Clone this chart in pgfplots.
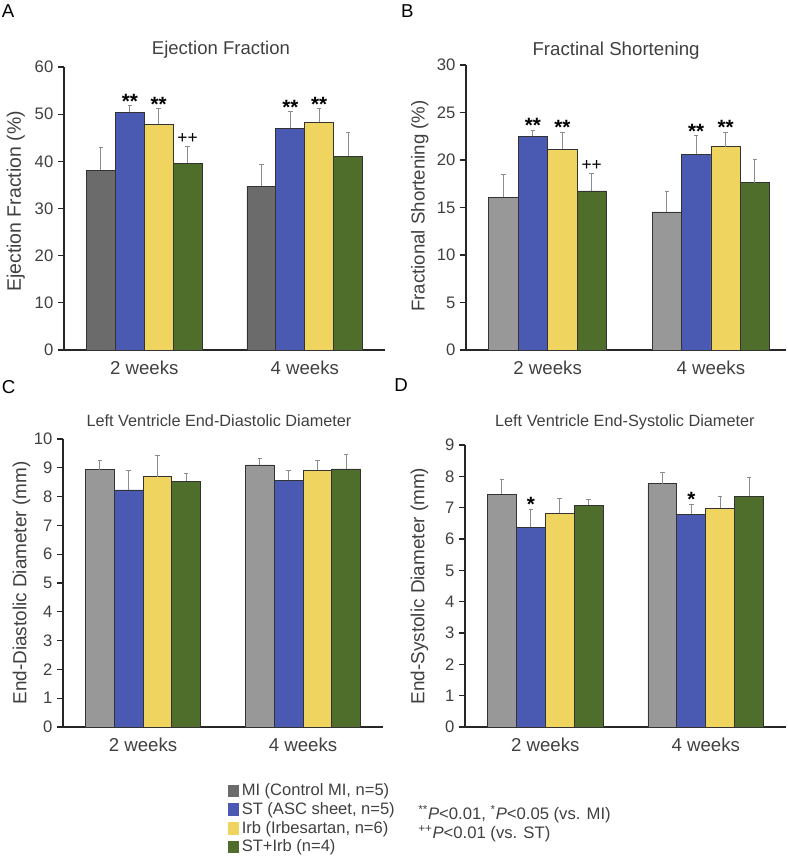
\documentclass[border=0pt]{standalone}
\usepackage{fontspec}
\setmainfont{Liberation Sans}
\usepackage{pgfplots}
\pgfplotsset{compat=1.18}

\definecolor{midark}{HTML}{6B6B6B}
\definecolor{milight}{HTML}{989898}
\definecolor{stblue}{HTML}{4A5AB3}
\definecolor{irbyel}{HTML}{EFD45F}
\definecolor{comb}{HTML}{4F6E2B}
\definecolor{txt}{HTML}{404040}
\definecolor{errc}{HTML}{8C8C8C}

\pgfplotsset{
  panel/.style={
    scale only axis,
    axis lines=left,
    axis line style={-, line width=0.9pt, black!85},
    ymin=0, xmin=-0.5, xmax=1.5,
    xtick={0,1}, xticklabels={2 weeks,4 weeks},
    x tick style={draw=none},
    y tick style={black!85, line width=0.8pt},
    tick align=outside, major tick length=4.5pt,
    /pgf/number format/assume math mode=true,
    yticklabel style={font=\fontsize{12.5}{14}\selectfont, text=txt},
    xticklabel style={font=\fontsize{14}{16}\selectfont, text=txt},
    ylabel style={font=\fontsize{14.2}{16}\selectfont, text=txt, anchor=center},
    title style={text=txt, anchor=base},
    ybar, bar width=0.18,
    every axis plot/.append style={draw=black!80, line width=0.6pt},
    error bars/y dir=plus, error bars/y explicit,
    error bars/error bar style={errc, line width=0.75pt},
    error bars/error mark options={rotate=90, errc, mark size=1.7pt, line width=0.75pt},
    clip=false,
  },
}
\tikzset{
  sig/.style={font=\bfseries\fontsize{15.5}{16}\selectfont, anchor=center, yshift=3.4pt, inner sep=0pt},
  pls/.style={font=\fontsize{13}{14}\selectfont, anchor=center, yshift=6pt, inner sep=0pt},
}

\begin{document}
\begin{tikzpicture}
\path[use as bounding box] (0pt,0pt) rectangle (591pt,-642.75pt);

% panel letters
\node[anchor=north west, inner sep=0pt, font=\fontsize{14}{15}\selectfont] at (1.3pt,-3.6pt) {A};
\node[anchor=north west, inner sep=0pt, font=\fontsize{14}{15}\selectfont] at (300.7pt,-3.6pt) {B};
\node[anchor=north west, inner sep=0pt, font=\fontsize{14}{15}\selectfont] at (1.3pt,-285pt) {C};
\node[anchor=north west, inner sep=0pt, font=\fontsize{14}{15}\selectfont] at (295.5pt,-283.5pt) {D};

% A: Ejection Fraction
\begin{axis}[panel,
  at={(48pt,-262.5pt)}, anchor=south west,
  width=240.75pt, height=212.25pt,
  ymax=60, ytick={0,10,...,60},
  title={Ejection Fraction},
  title style={at={(axis description cs:0.489,1)}, yshift=3.5pt, font=\fontsize{13.9}{16}\selectfont},
  ylabel={Ejection Fraction (\%)},
  ylabel style={at={(axis description cs:-0.15,0.525)}, font=\fontsize{14.6}{16}\selectfont},
  legend style={at={(axis description cs:0.511,-1.522)}, anchor=north west,
    draw=none, fill=none, inner sep=0pt, row sep=-0.4pt,
    font=\fontsize{12.4}{14}\selectfont, text=txt},
  legend cell align=left,
]
\addplot[fill=midark, bar shift=-0.27,
  legend image code/.code={\fill[midark] (0pt,-4.3pt) rectangle (7.5pt,4.3pt);}]
  coordinates {(0,38.1) +- (0,4.9) (1,34.7) +- (0,4.6)};
\addlegendentry{MI (Control MI, n=5)}
\addplot[fill=stblue, bar shift=-0.09,
  legend image code/.code={\fill[stblue] (0pt,-4.3pt) rectangle (7.5pt,4.3pt);}]
  coordinates {(0,50.4) +- (0,1.4) (1,47.0) +- (0,3.5)};
\addlegendentry{ST (ASC sheet, n=5)}
\addplot[fill=irbyel, bar shift=0.09,
  legend image code/.code={\fill[irbyel] (0pt,-4.3pt) rectangle (7.5pt,4.3pt);}]
  coordinates {(0,47.9) +- (0,3.3) (1,48.3) +- (0,2.9)};
\addlegendentry{Irb (Irbesartan, n=6)}
\addplot[fill=comb, bar shift=0.27,
  legend image code/.code={\fill[comb] (0pt,-4.3pt) rectangle (7.5pt,4.3pt);}]
  coordinates {(0,39.6) +- (0,3.6) (1,41.1) +- (0,5.0)};
\addlegendentry{ST+Irb (n=4)}
\node[sig] at (axis cs:-0.09,51.8) {**};
\node[sig] at (axis cs:0.09,51.2) {**};
\node[pls] at (axis cs:0.27,43.2) {++};
\node[sig] at (axis cs:0.91,50.5) {**};
\node[sig] at (axis cs:1.09,51.2) {**};
\end{axis}

% B: Fractional Shortening
\begin{axis}[panel,
  at={(349.5pt,-262.5pt)}, anchor=south west,
  width=240pt, height=213.75pt,
  xmax=1.46,
  ymax=30, ytick={0,5,...,30},
  title={Fractinal Shortening},
  title style={at={(axis description cs:0.469,1)}, yshift=1.3pt, font=\fontsize{14}{16}\selectfont},
  ylabel={Fractional Shortening (\%)},
  ylabel style={at={(axis description cs:-0.144,0.505)}, font=\fontsize{14}{16}\selectfont},
]
\addplot[fill=milight, bar shift=-0.27] coordinates {(0,16.07) +- (0,2.42) (1,14.53) +- (0,2.14)};
\addplot[fill=stblue, bar shift=-0.09] coordinates {(0,22.49) +- (0,0.63) (1,20.63) +- (0,1.9)};
\addplot[fill=irbyel, bar shift=0.09] coordinates {(0,21.12) +- (0,1.79) (1,21.4) +- (0,1.51)};
\addplot[fill=comb, bar shift=0.27] coordinates {(0,16.74) +- (0,1.79) (1,17.61) +- (0,2.46)};
\node[sig] at (axis cs:-0.09,23.12) {**};
\node[sig] at (axis cs:0.09,22.91) {**};
\node[pls] at (axis cs:0.27,18.53) {++};
\node[sig] at (axis cs:0.91,22.53) {**};
\node[sig] at (axis cs:1.09,22.91) {**};
\end{axis}

% C: End-diastolic diameter
\begin{axis}[panel,
  at={(47.25pt,-545.25pt)}, anchor=south west,
  width=240pt, height=216pt,
  ymax=10, ytick={0,1,...,10},
  title={Left Ventricle End-Diastolic Diameter},
  title style={at={(axis description cs:0.4875,1)}, yshift=3.5pt, font=\fontsize{12.2}{14}\selectfont},
  ylabel={End-Diastolic Diameter (mm)},
  ylabel style={at={(axis description cs:-0.13,0.5)}},
]
\addplot[fill=milight, bar shift=-0.27] coordinates {(0,8.93) +- (0,0.31) (1,9.10) +- (0,0.23)};
\addplot[fill=stblue, bar shift=-0.09] coordinates {(0,8.23) +- (0,0.68) (1,8.56) +- (0,0.34)};
\addplot[fill=irbyel, bar shift=0.09] coordinates {(0,8.69) +- (0,0.73) (1,8.91) +- (0,0.35)};
\addplot[fill=comb, bar shift=0.27] coordinates {(0,8.54) +- (0,0.27) (1,8.96) +- (0,0.51)};
\end{axis}

% D: End-systolic diameter
\begin{axis}[panel,
  at={(348.75pt,-545.25pt)}, anchor=south west,
  width=240.75pt, height=211.5pt,
  ymax=9, ytick={0,1,...,9},
  title={Left Ventricle End-Systolic Diameter},
  title style={at={(axis description cs:0.498,1)}, yshift=8pt, font=\fontsize{12.2}{14}\selectfont},
  ylabel={End-Systolic Diameter (mm)},
  ylabel style={at={(axis description cs:-0.142,0.5)}},
]
\addplot[fill=milight, bar shift=-0.27] coordinates {(0,7.43) +- (0,0.46) (1,7.76) +- (0,0.36)};
\addplot[fill=stblue, bar shift=-0.09] coordinates {(0,6.37) +- (0,0.58) (1,6.79) +- (0,0.32)};
\addplot[fill=irbyel, bar shift=0.09] coordinates {(0,6.82) +- (0,0.47) (1,6.98) +- (0,0.37)};
\addplot[fill=comb, bar shift=0.27] coordinates {(0,7.08) +- (0,0.19) (1,7.36) +- (0,0.59)};
\node[sig] at (axis cs:-0.09,6.95) {*};
\node[sig] at (axis cs:0.91,7.11) {*};
\end{axis}

% significance note
\node[anchor=west, align=left, inner sep=0pt, text=txt, font=\fontsize{12.5}{14.25}\selectfont]
  at (313.5pt,-617.5pt)
  {\textsuperscript{**}\textit{P}<0.01, \textsuperscript{*}\textit{P}<0.05 (vs. MI)\\
   \textsuperscript{++}\textit{P}<0.01 (vs. ST)};
\end{tikzpicture}
\end{document}
